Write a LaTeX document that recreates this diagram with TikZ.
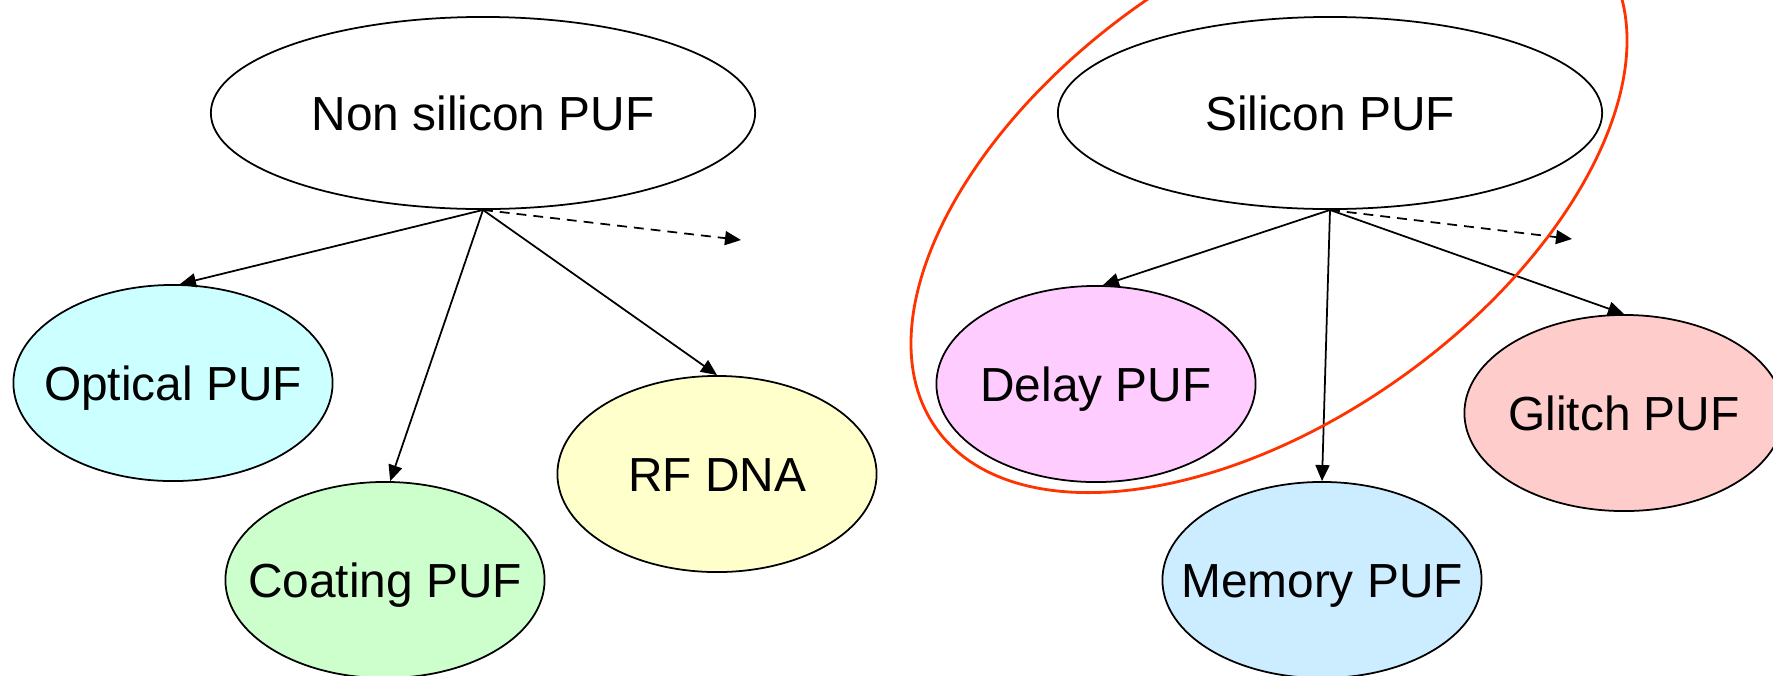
\documentclass[tikz,border=0pt]{standalone}
\usepackage{fontspec}
\setmainfont{Liberation Sans}
\usetikzlibrary{arrows.meta,shapes.geometric}
\definecolor{opticcol}{RGB}{204,255,255}
\definecolor{coatcol}{RGB}{204,255,204}
\definecolor{rfcol}{RGB}{255,255,204}
\definecolor{delaycol}{RGB}{255,204,255}
\definecolor{memcol}{RGB}{204,236,255}
\definecolor{glitchcol}{RGB}{255,204,204}
\definecolor{ringcol}{RGB}{255,51,0}

\begin{document}
\begin{tikzpicture}[
  x=0.01cm, y=-0.01cm,
  font=\fontsize{13.6}{16}\selectfont,
  >={Triangle[length=1.6mm, width=1.4mm]},
  % text is boxed to zero width so the ellipse keeps its set size,
  % and the capitals sit on the middle line
  puf/.style={ellipse, draw=black, line width=0.5pt, inner sep=0pt,
              minimum width=3.19cm, minimum height=1.96cm,
              text height=9.7pt, text depth=0pt,
              execute at begin node={\hbox to 0pt\bgroup\hss},
              execute at end node={\hss\egroup}},
  family/.style={puf, fill=white, minimum width=5.44cm, minimum height=1.92cm},
  link/.style={->, line width=0.5pt},
  more/.style={link, dash pattern=on 2.8pt off 2pt},
]
\useasboundingbox (0,0) rectangle (1773,675);
\clip (0,0) rectangle (1773,675);

% ---------- non silicon branch ----------
\node[family] (nonsi) at (483,113) {Non silicon PUF};
\node[puf, fill=opticcol] (optical) at (173,383) {Optical PUF};
\node[puf, fill=coatcol] (coating) at (385,580) {Coating PUF};
\node[puf, fill=rfcol] (rfdna) at (717,474) {RF DNA};
\coordinate (nonsimore) at (741,240);

\draw[link] (nonsi.south) -- (optical.86);
\draw[link] (nonsi.south) -- (coating.87);
\draw[link] (nonsi.south) -- (rfdna.north);
\draw[more] (nonsi.south) -- (nonsimore);

% ---------- silicon branch ----------
\node[family] (silicon) at (1330,113) {Silicon PUF};
\node[puf, fill=delaycol] (delay) at (1096,384) {Delay PUF};
\node[puf, fill=memcol] (memory) at (1322,580) {Memory PUF};
\node[puf, fill=glitchcol] (glitch) at (1624,413) {Glitch PUF};
\coordinate (silmore) at (1572,239);

\draw[link] (silicon.south) -- (delay.86);
\draw[link] (silicon.south) -- (memory.north);
\draw[link] (silicon.south) -- (glitch.north);
\draw[more] (silicon.south) -- (silmore);

% ---------- ring round silicon + delay ----------
\node[ellipse, draw=ringcol, line width=0.8pt, rotate=35.4,
      minimum width=8.16cm, minimum height=4.55cm] (ring) at (1269,192) {};

\end{tikzpicture}
\end{document}
